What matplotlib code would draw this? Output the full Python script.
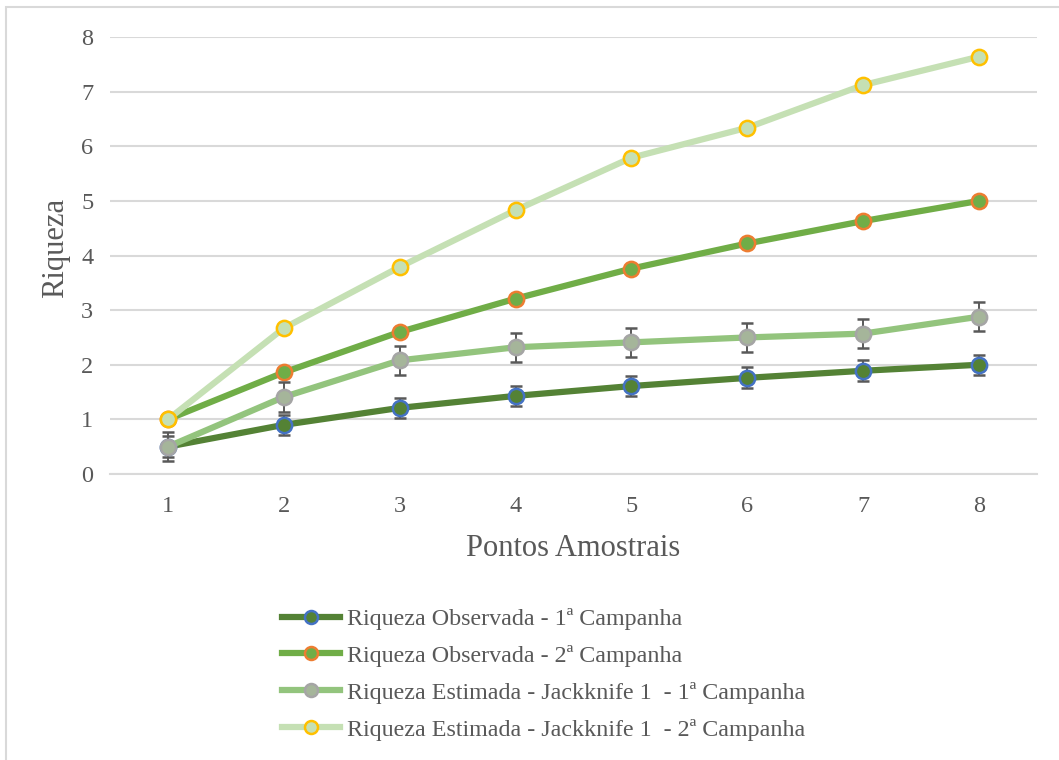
import matplotlib.pyplot as plt
from matplotlib.patches import Rectangle

plt.rcParams['font.family'] = ['Liberation Serif', 'DejaVu Serif']

pontos = [1, 2, 3, 4, 5, 6, 7, 8]
obs_1 = [0.5, 0.9, 1.21, 1.43, 1.61, 1.76, 1.89, 2.0]
obs_1_err = [0.19, 0.18, 0.19, 0.18, 0.18, 0.19, 0.19, 0.18]
obs_2 = [1.0, 1.86, 2.6, 3.21, 3.76, 4.22, 4.63, 5.0]
jack_1 = [0.5, 1.41, 2.08, 2.32, 2.41, 2.5, 2.57, 2.88]
jack_1_err = [0.26, 0.27, 0.27, 0.27, 0.27, 0.26, 0.27, 0.27]
jack_2 = [1.0, 2.67, 3.79, 4.83, 5.79, 6.34, 7.12, 7.64]

labels = ['Riqueza Observada - 1ª Campanha',
          'Riqueza Observada - 2ª Campanha',
          'Riqueza Estimada - Jackknife 1  - 1ª Campanha',
          'Riqueza Estimada - Jackknife 1  - 2ª Campanha']

fig = plt.figure(figsize=(10.59, 7.60), dpi=100)
ax = fig.add_axes([110/1059, 1-474/760, (1037-110)/1059, (474-37)/760])

# moldura do gráfico
fig.patches.append(Rectangle((6/1059, -0.1), 1.2, 1.1 - 7/760, transform=fig.transFigure,
                             fill=False, edgecolor='#d9d9d9', linewidth=1.5))

txt = '#595959'
ebar = dict(ecolor='#595959', elinewidth=1.4, capsize=4.5, capthick=1.4)
lw = 4.5
ms = 11
mew = 1.8

e1 = ax.errorbar(pontos, obs_1, yerr=obs_1_err, color='#548235', lw=lw, marker='o', ms=ms,
                 mfc='#548235', mec='#4472c4', mew=mew, zorder=3, **ebar)
l2, = ax.plot(pontos, obs_2, color='#70ad47', lw=lw, marker='o', ms=ms,
              mfc='#70ad47', mec='#ed7d31', mew=mew, zorder=4)
e3 = ax.errorbar(pontos, jack_1, yerr=jack_1_err, color='#93c47d', lw=lw, marker='o', ms=ms,
                 mfc='#a5b59a', mec='#a5a5a5', mew=mew, zorder=5, **ebar)
l4, = ax.plot(pontos, jack_2, color='#c5e0b4', lw=lw, marker='o', ms=ms,
              mfc='#c5e0b4', mec='#ffc000', mew=mew, zorder=6)

ax.set_xlim(0.5, 8.5)
ax.set_ylim(0, 8)
ax.set_xticks(pontos)
ax.set_yticks(range(0, 9))
ax.grid(axis='y', color='#d9d9d9', lw=1.5)
ax.set_axisbelow(True)
for s in ['top', 'right', 'left']:
    ax.spines[s].set_visible(False)
ax.spines['bottom'].set_color('#d9d9d9')
ax.spines['bottom'].set_linewidth(1.5)
ax.tick_params(length=0, labelsize=17.5, labelcolor=txt)
ax.tick_params(axis='x', pad=16)
ax.tick_params(axis='y', pad=12)

ax.set_xlabel('Pontos Amostrais', fontsize=22, color=txt, labelpad=12)
ax.set_ylabel('Riqueza', fontsize=22, color=txt)
ax.yaxis.set_label_coords(-0.043, 0.517)

# legenda só com a linha e o marcador de cada série
handles = [e1.lines[0], l2, e3.lines[0], l4]
leg = ax.legend(handles, labels, loc='upper left', bbox_to_anchor=(282/1059, 1-608/760),
                bbox_transform=fig.transFigure, frameon=False, fontsize=17.3,
                handlelength=2.4, handletextpad=0.3, labelspacing=0.62, borderpad=0,
                borderaxespad=0, markerscale=0.85)
for t in leg.get_texts():
    t.set_color(txt)

fig.savefig('out.png', dpi=100)
